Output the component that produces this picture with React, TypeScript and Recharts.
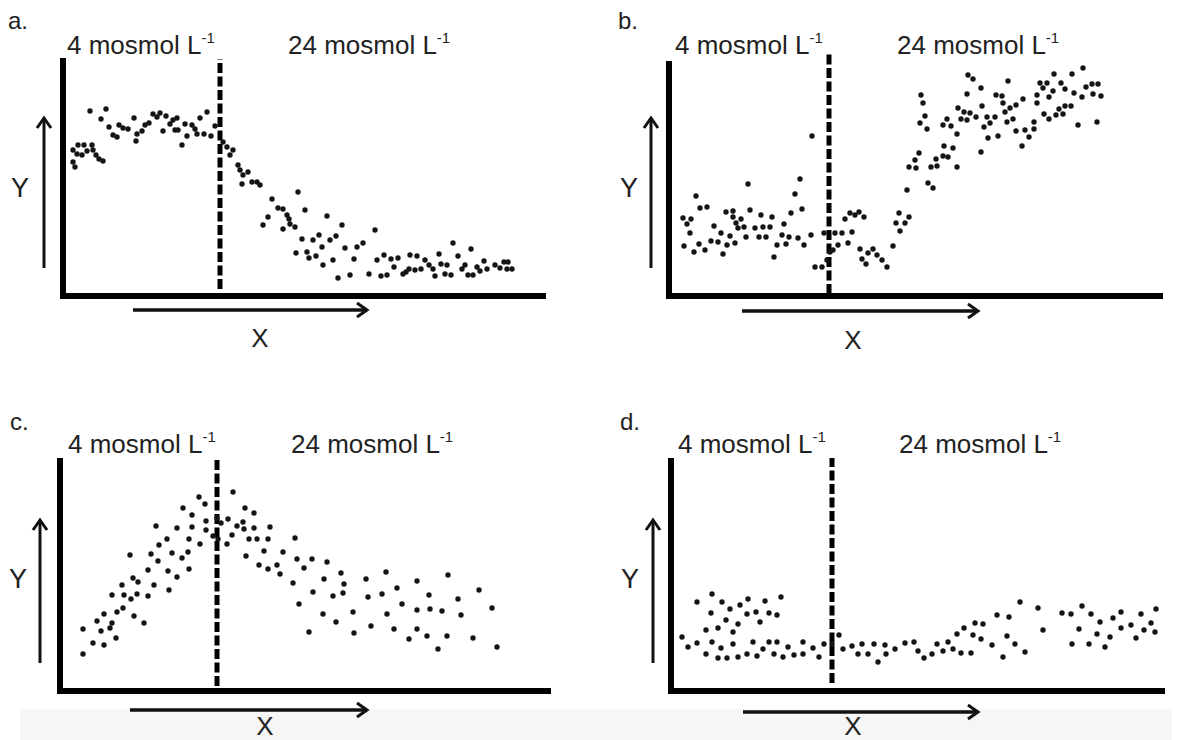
import React from 'react';
import { ScatterChart, Scatter, XAxis, YAxis, ReferenceLine } from 'recharts';

const panelA = [
  [10,146],[15,151],[21,151],[29,151],[14,142],[19,141],[24,145],[30,146],[33,141],[36,137],[40,135],[10,134],[12,129],
  [27,185],[43,187],[38,177],[46,169],[50,161],[54,159],[56,171],[60,168],[65,167],[71,178],[74,162],[73,155],[79,165],
  [82,171],[86,173],[90,182],[94,179],[97,183],[100,165],[103,180],[107,172],[110,176],[114,178],[112,166],[115,166],
  [119,151],[122,172],[124,160],[129,171],[132,167],[134,162],[137,178],[141,162],[144,184],[148,160],[152,170],
  [160,154],[164,149],[170,146],[167,141],[175,131],[177,126],[180,121],[185,124],[179,112],[189,114],[194,114],[197,111],
  [209,97],[215,88],[220,87],[224,81],[226,77],[205,79],[200,71],[227,72],[232,69],[220,67],[235,104],[233,43],[242,86],
  [264,80],[279,71],[312,66],[239,57],[250,56],[256,61],[259,49],[267,56],[273,60],[244,44],[246,38],[253,40],[260,31],
  [270,36],[282,48],[291,37],[294,49],[300,53],[275,18],[287,21],[306,22],[314,36],[318,20],[321,41],[324,21],[328,37],
  [331,29],[335,38],[340,22],[343,24],[347,41],[346,27],[352,26],[354,40],[358,27],[362,36],[366,31],[370,27],[372,20],
  [376,42],[378,32],[382,22],[384,31],[388,21],[390,53],[395,40],[399,27],[402,31],[405,21],[408,47],[410,21],[414,29],
  [417,25],[421,35],[424,27],[432,31],[437,28],[441,34],[445,34],[444,27],[449,27],
];

const panelB = [
  [143,160],[79,112],[131,117],[126,102],[27,100],[31,88],[38,89],[14,78],[22,77],[18,72],[21,63],[15,50],[25,44],[30,52],
  [36,46],[42,55],[45,70],[49,54],[52,63],[54,42],[57,84],[58,51],[61,60],[64,85],[64,79],[66,53],[67,73],[69,68],[72,77],
  [75,69],[77,59],[81,86],[86,68],[90,59],[92,81],[94,69],[97,59],[101,69],[103,79],[105,39],[108,51],[113,61],[115,72],
  [117,52],[120,59],[122,83],[129,58],[133,87],[135,51],[142,61],[146,29],[153,29],[155,63],[158,36],[161,44],[166,63],
  [164,46],[169,51],[173,63],[176,77],[179,53],[181,83],[183,64],[186,81],[190,84],[195,79],[191,47],[193,37],[197,32],
  [199,43],[204,47],[208,41],[213,36],[218,29],[224,50],[231,65],[227,73],[230,83],[236,73],[240,79],[238,106],[259,113],
  [264,108],[240,129],[247,128],[246,136],[250,143],[262,129],[268,130],[267,137],[274,140],[279,139],[275,150],[284,148],
  [288,129],[288,162],[252,201],[254,193],[256,180],[251,173],[258,167],[274,171],[278,177],[282,170],[289,188],[292,177],
  [295,184],[298,176],[301,183],[307,179],[298,202],[299,221],[304,217],[312,208],[313,190],[315,169],[318,179],[321,173],
  [326,179],[319,158],[312,144],[329,160],[327,201],[333,200],[334,193],[336,184],[338,174],[341,188],[344,177],[347,191],
  [339,215],[347,165],[354,197],[353,150],[356,166],[360,159],[365,174],[365,167],[368,201],[368,193],[371,213],[374,208],
  [378,213],[380,199],[384,205],[385,222],[375,182],[380,177],[387,181],[390,187],[394,182],[392,213],[396,207],[396,190],
  [402,190],[403,222],[405,203],[409,171],[413,199],[414,228],[417,209],[423,212],[424,202],[429,212],[432,200],[428,174],
];

const panelC = [
  [23,37],[23,62],[33,48],[44,46],[41,60],[37,70],[44,77],[50,63],[52,68],[56,53],[57,79],[63,83],[52,96],[62,106],[64,96],
  [71,92],[74,75],[77,97],[73,113],[78,109],[84,68],[88,95],[70,136],[88,121],[94,106],[91,137],[98,130],[99,146],[96,165],
  [107,152],[108,120],[109,101],[112,138],[117,114],[117,163],[122,133],[123,183],[128,139],[129,152],[129,122],[132,164],
  [132,176],[139,194],[140,147],[145,187],[146,170],[146,161],[153,155],[157,173],[161,168],[158,152],[167,147],[168,172],
  [172,156],[173,199],[177,165],[183,169],[185,183],[184,162],[186,135],[189,152],[194,178],[194,163],[197,152],[199,126],
  [204,140],[208,122],[208,152],[210,164],[217,126],[220,117],[223,139],[233,108],[235,153],[237,132],[239,87],[244,123],
  [252,132],[253,99],[249,59],[267,129],[264,112],[281,118],[284,107],[283,98],[273,95],[263,77],[276,69],[293,79],[294,58],
  [306,112],[308,94],[311,65],[322,97],[326,119],[327,77],[334,62],[337,103],[342,87],[349,52],[357,110],[357,81],[357,62],
  [367,55],[369,96],[370,82],[378,42],[382,80],[387,55],[388,116],[398,92],[401,76],[413,53],[419,101],[432,83],[437,44],
];

const panelD = [
  [26,89],[41,97],[51,89],[59,82],[69,86],[77,92],[94,90],[110,94],[40,78],[55,71],[76,77],[85,79],[98,78],[106,76],[89,69],
  [35,61],[47,63],[67,67],[62,59],[11,54],[17,44],[26,48],[41,49],[50,43],[62,47],[82,49],[92,42],[98,49],[106,49],[117,44],
  [132,49],[142,43],[153,47],[35,37],[47,33],[56,33],[67,34],[76,37],[86,35],[103,37],[112,34],[123,36],[132,37],[148,34],
  [161,47],[168,56],[172,42],[181,45],[191,47],[203,47],[214,46],[224,42],[234,48],[243,49],[187,37],[197,37],[207,29],
  [215,37],[247,40],[253,33],[261,37],[266,47],[272,40],[277,49],[282,42],[286,57],[290,38],[293,63],[300,38],[302,56],
  [304,68],[310,52],[312,67],[321,46],[326,76],[332,34],[336,55],[338,74],[344,47],[349,89],[354,39],[367,83],[372,61],
  [391,78],[400,77],[401,47],[408,62],[411,85],[418,47],[420,77],[426,57],[429,69],[434,44],[439,54],[442,73],[450,79],
  [450,63],[460,66],[465,53],[470,77],[473,61],[480,68],[484,59],[485,82],
];

const panelLetters = ['a.', 'b.', 'c.', 'd.'];
const lowLabel = '4 mosmol L';
const highLabel = '24 mosmol L';
const unitExp = '-1';
const xName = 'X';
const yName = 'Y';

const FONT = '"Liberation Sans", Arial, Helvetica, sans-serif';
const INK = '#222';

type Layout = {
  ox: number; oy: number; top: number; right: number;
  dashX: number; dashTop: number; dashBottom: number;
  letter: [number, number]; low: [number, number]; high: [number, number];
  yArrow: [number, number, number]; xArrow: [number, number, number];
  yLabel: [number, number]; xLabel: [number, number];
};

const layouts: Layout[] = [
  { ox: 63, oy: 296, top: 61, right: 543, dashX: 220, dashTop: 59, dashBottom: 289,
    letter: [8, 29], low: [67, 54], high: [288, 54], yArrow: [44, 118, 268], xArrow: [310, 133, 367],
    yLabel: [20, 197], xLabel: [260, 347] },
  { ox: 669, oy: 296, top: 64, right: 1160, dashX: 829, dashTop: 52, dashBottom: 294,
    letter: [618, 29], low: [675, 54], high: [897, 54], yArrow: [651, 118, 268], xArrow: [311, 742, 978],
    yLabel: [629, 197], xLabel: [853, 349] },
  { ox: 60, oy: 691, top: 461, right: 548, dashX: 217, dashTop: 458, dashBottom: 686,
    letter: [10, 430], low: [68, 453], high: [291, 453], yArrow: [40, 520, 663], xArrow: [710, 130, 367],
    yLabel: [18, 588], xLabel: [265, 735] },
  { ox: 671, oy: 691, top: 461, right: 1162, dashX: 832, dashTop: 458, dashBottom: 683,
    letter: [620, 430], low: [678, 453], high: [899, 453], yArrow: [653, 520, 663], xArrow: [712, 743, 978],
    yLabel: [630, 588], xLabel: [853, 735] },
];

const allPanels = [panelA, panelB, panelC, panelD];

const Dot = (props: any) => {
  const { cx, cy } = props;
  if (cx == null || cy == null) return null;
  return <circle cx={cx} cy={cy} r={2.7} fill="#151515" />;
};

const M = 14;

function Panel({ pts, L }: { pts: number[][]; L: Layout }) {
  const W = L.right - L.ox;
  const H = L.oy - L.top;
  const data = pts.map(([x, y]) => ({ x, y }));
  const dx = L.dashX - L.ox;
  return (
    <div style={{ position: 'absolute', left: L.ox - M, top: L.top - M }}>
      <ScatterChart width={W + 2 * M} height={H + 2 * M} margin={{ top: M, right: M, bottom: M, left: M }}>
        <XAxis type="number" dataKey="x" domain={[0, W]} hide allowDataOverflow />
        <YAxis type="number" dataKey="y" domain={[0, H]} hide allowDataOverflow />
        <ReferenceLine segment={[{ x: dx, y: L.oy - L.dashBottom }, { x: dx, y: L.oy - L.dashTop }]}
          stroke="#000" strokeWidth={5} strokeDasharray="10 3.5" ifOverflow="visible" />
        <ReferenceLine segment={[{ x: 0, y: 0 }, { x: 0, y: H }]} stroke="#000" strokeWidth={6}
          strokeLinecap="square" ifOverflow="visible" />
        <ReferenceLine segment={[{ x: 0, y: 0 }, { x: W, y: 0 }]} stroke="#000" strokeWidth={6}
          strokeLinecap="square" ifOverflow="visible" />
        <Scatter data={data} shape={Dot} isAnimationActive={false} />
      </ScatterChart>
    </div>
  );
}

function Decor({ L, letter }: { L: Layout; letter: string }) {
  const [ax, ay1, ay2] = L.yArrow;
  const [by, bx1, bx2] = L.xArrow;
  return (
    <g fill={INK} fontFamily={FONT}>
      <text x={L.letter[0]} y={L.letter[1]} fontSize={24}>{letter}</text>
      <text x={L.low[0]} y={L.low[1]} fontSize={26}>
        {lowLabel}<tspan dy={-11} fontSize={15}>{unitExp}</tspan>
      </text>
      <text x={L.high[0]} y={L.high[1]} fontSize={26}>
        {highLabel}<tspan dy={-11} fontSize={15}>{unitExp}</tspan>
      </text>
      <text x={L.yLabel[0]} y={L.yLabel[1]} fontSize={27} textAnchor="middle">{yName}</text>
      <text x={L.xLabel[0]} y={L.xLabel[1]} fontSize={26} textAnchor="middle">{xName}</text>
      <g stroke="#111" fill="none" strokeWidth={3}>
        <line x1={ax} y1={ay2} x2={ax} y2={ay1 + 1} />
        <polyline points={`${ax - 7},${ay1 + 10} ${ax},${ay1} ${ax + 7},${ay1 + 10}`} strokeLinejoin="miter" />
        <line x1={bx1} y1={by} x2={bx2 - 1} y2={by} strokeWidth={3.5} />
        <polyline points={`${bx2 - 10},${by - 7} ${bx2},${by} ${bx2 - 10},${by + 7}`} strokeLinejoin="miter" />
      </g>
    </g>
  );
}

export default function App() {
  return (
    <div style={{ position: 'absolute', left: 0, top: 0, width: 1190, height: 740, background: '#fff', overflow: 'hidden' }}>
      <style>{`.recharts-surface{overflow:visible}`}</style>
      <div style={{ position: 'absolute', left: 20, top: 709, width: 1152, height: 31, background: '#f6f6f6' }} />
      {layouts.map((L, i) => (
        <Panel key={i} pts={allPanels[i]} L={L} />
      ))}
      <svg width={1190} height={740} style={{ position: 'absolute', left: 0, top: 0, pointerEvents: 'none' }}>
        {layouts.map((L, i) => (
          <Decor key={i} L={L} letter={panelLetters[i]} />
        ))}
      </svg>
    </div>
  );
}
